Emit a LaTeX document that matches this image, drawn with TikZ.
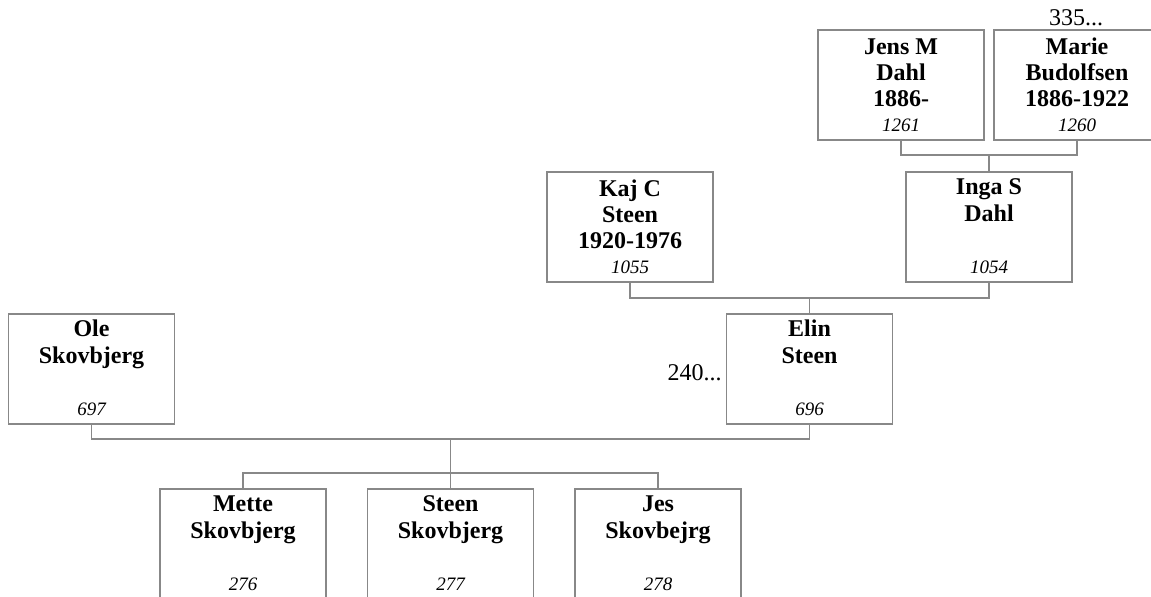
\documentclass[tikz,border=0pt]{standalone}
\usepackage{fontspec}
\setmainfont{Liberation Serif}
\definecolor{linegray}{HTML}{888888}
\begin{document}
\begin{tikzpicture}[x=0.5pt,y=-0.5pt,
  person/.style={draw=linegray, line width=0.75pt, minimum width=83pt, minimum height=55pt, inner sep=0pt},
  nametext/.style={anchor=base, align=center, font=\bfseries\fontsize{12}{12.9}\selectfont, inner sep=0pt},
  nametwo/.style={nametext, font=\bfseries\fontsize{12}{13.6}\selectfont},
  idtext/.style={anchor=base, font=\itshape\fontsize{9.5}{11}\selectfont, inner sep=0pt},
  link/.style={draw=linegray, line width=0.75pt},
  extra/.style={font=\fontsize{12}{13}\selectfont, inner sep=0pt}]
\useasboundingbox (0,0) rectangle (1151,596);
\clip (0,0) rectangle (1151,596);

% boxes
\node[person] (jens)  at (901,85) {};
\node[person] (marie) at (1077,85) {};
\node[person] (inga)  at (989,227) {};
\node[person] (kaj)   at (630,227) {};
\node[person] (elin)  at (809.5,369) {};
\node[person] (ole)   at (91.5,369) {};
\node[person] (mette) at (243,544) {};
\node[person] (steen) at (450.5,544) {};
\node[person] (jes)   at (658,544) {};

% names (anchor = baseline of last line)
\node[nametext] (jensN)  at ([yshift=-38.5pt]jens.north)  {Jens M\\Dahl\\1886-};
\node[nametext] (marieN) at ([yshift=-38.5pt]marie.north) {Marie\\Budolfsen\\1886-1922};
\node[nametwo] (ingaN)  at ([yshift=-25pt]inga.north)  {Inga S\\Dahl};
\node[nametext] (kajN)   at ([yshift=-38.5pt]kaj.north)   {Kaj C\\Steen\\1920-1976};
\node[nametwo] (elinN)  at ([yshift=-25pt]elin.north)  {Elin\\Steen};
\node[nametwo] (oleN)   at ([yshift=-25pt]ole.north)   {Ole\\Skovbjerg};
\node[nametwo] (metteN) at ([yshift=-25pt]mette.north) {Mette\\Skovbjerg};
\node[nametwo] (steenN) at ([yshift=-25pt]steen.north) {Steen\\Skovbjerg};
\node[nametwo] (jesN)   at ([yshift=-25pt]jes.north)   {Jes\\Skovbejrg};

% ids
\node[idtext] (jensI)  at ([yshift=4.75pt]jens.south)  {1261};
\node[idtext] (marieI) at ([yshift=4.75pt]marie.south) {1260};
\node[idtext] (ingaI)  at ([yshift=4.75pt]inga.south)  {1054};
\node[idtext] (kajI)   at ([yshift=4.75pt]kaj.south)   {1055};
\node[idtext] (elinI)  at ([yshift=4.75pt]elin.south)  {696};
\node[idtext] (oleI)   at ([yshift=4.75pt]ole.south)   {697};
\node[idtext] (metteI) at ([yshift=4.75pt]mette.south) {276};
\node[idtext] (steenI) at ([yshift=4.75pt]steen.south) {277};
\node[idtext] (jesI)   at ([yshift=4.75pt]jes.south)   {278};

% extra labels
\node[extra, anchor=base] (more1) at (1076,25) {335...};
\node[extra, anchor=base east] (more2) at (722,380) {240...};

% connectors
\coordinate (jm) at (989,155);
\coordinate (ki) at (809.5,298);
\coordinate (oe) at (450.5,439);
\coordinate (ch) at (450.5,473);
\draw[link] (jens.south) |- (jm) -| (marie.south);
\draw[link] (jm) -- (inga.north);
\draw[link] (kaj.south) |- (ki) -| (inga.south);
\draw[link] (ki) -- (elin.north);
\draw[link] (ole.south) |- (oe) -| (elin.south);
\draw[link] (oe) -- (ch);
\draw[link] (mette.north) |- (ch) -| (jes.north);
\draw[link] (ch) -- (steen.north);
\end{tikzpicture}
\end{document}
